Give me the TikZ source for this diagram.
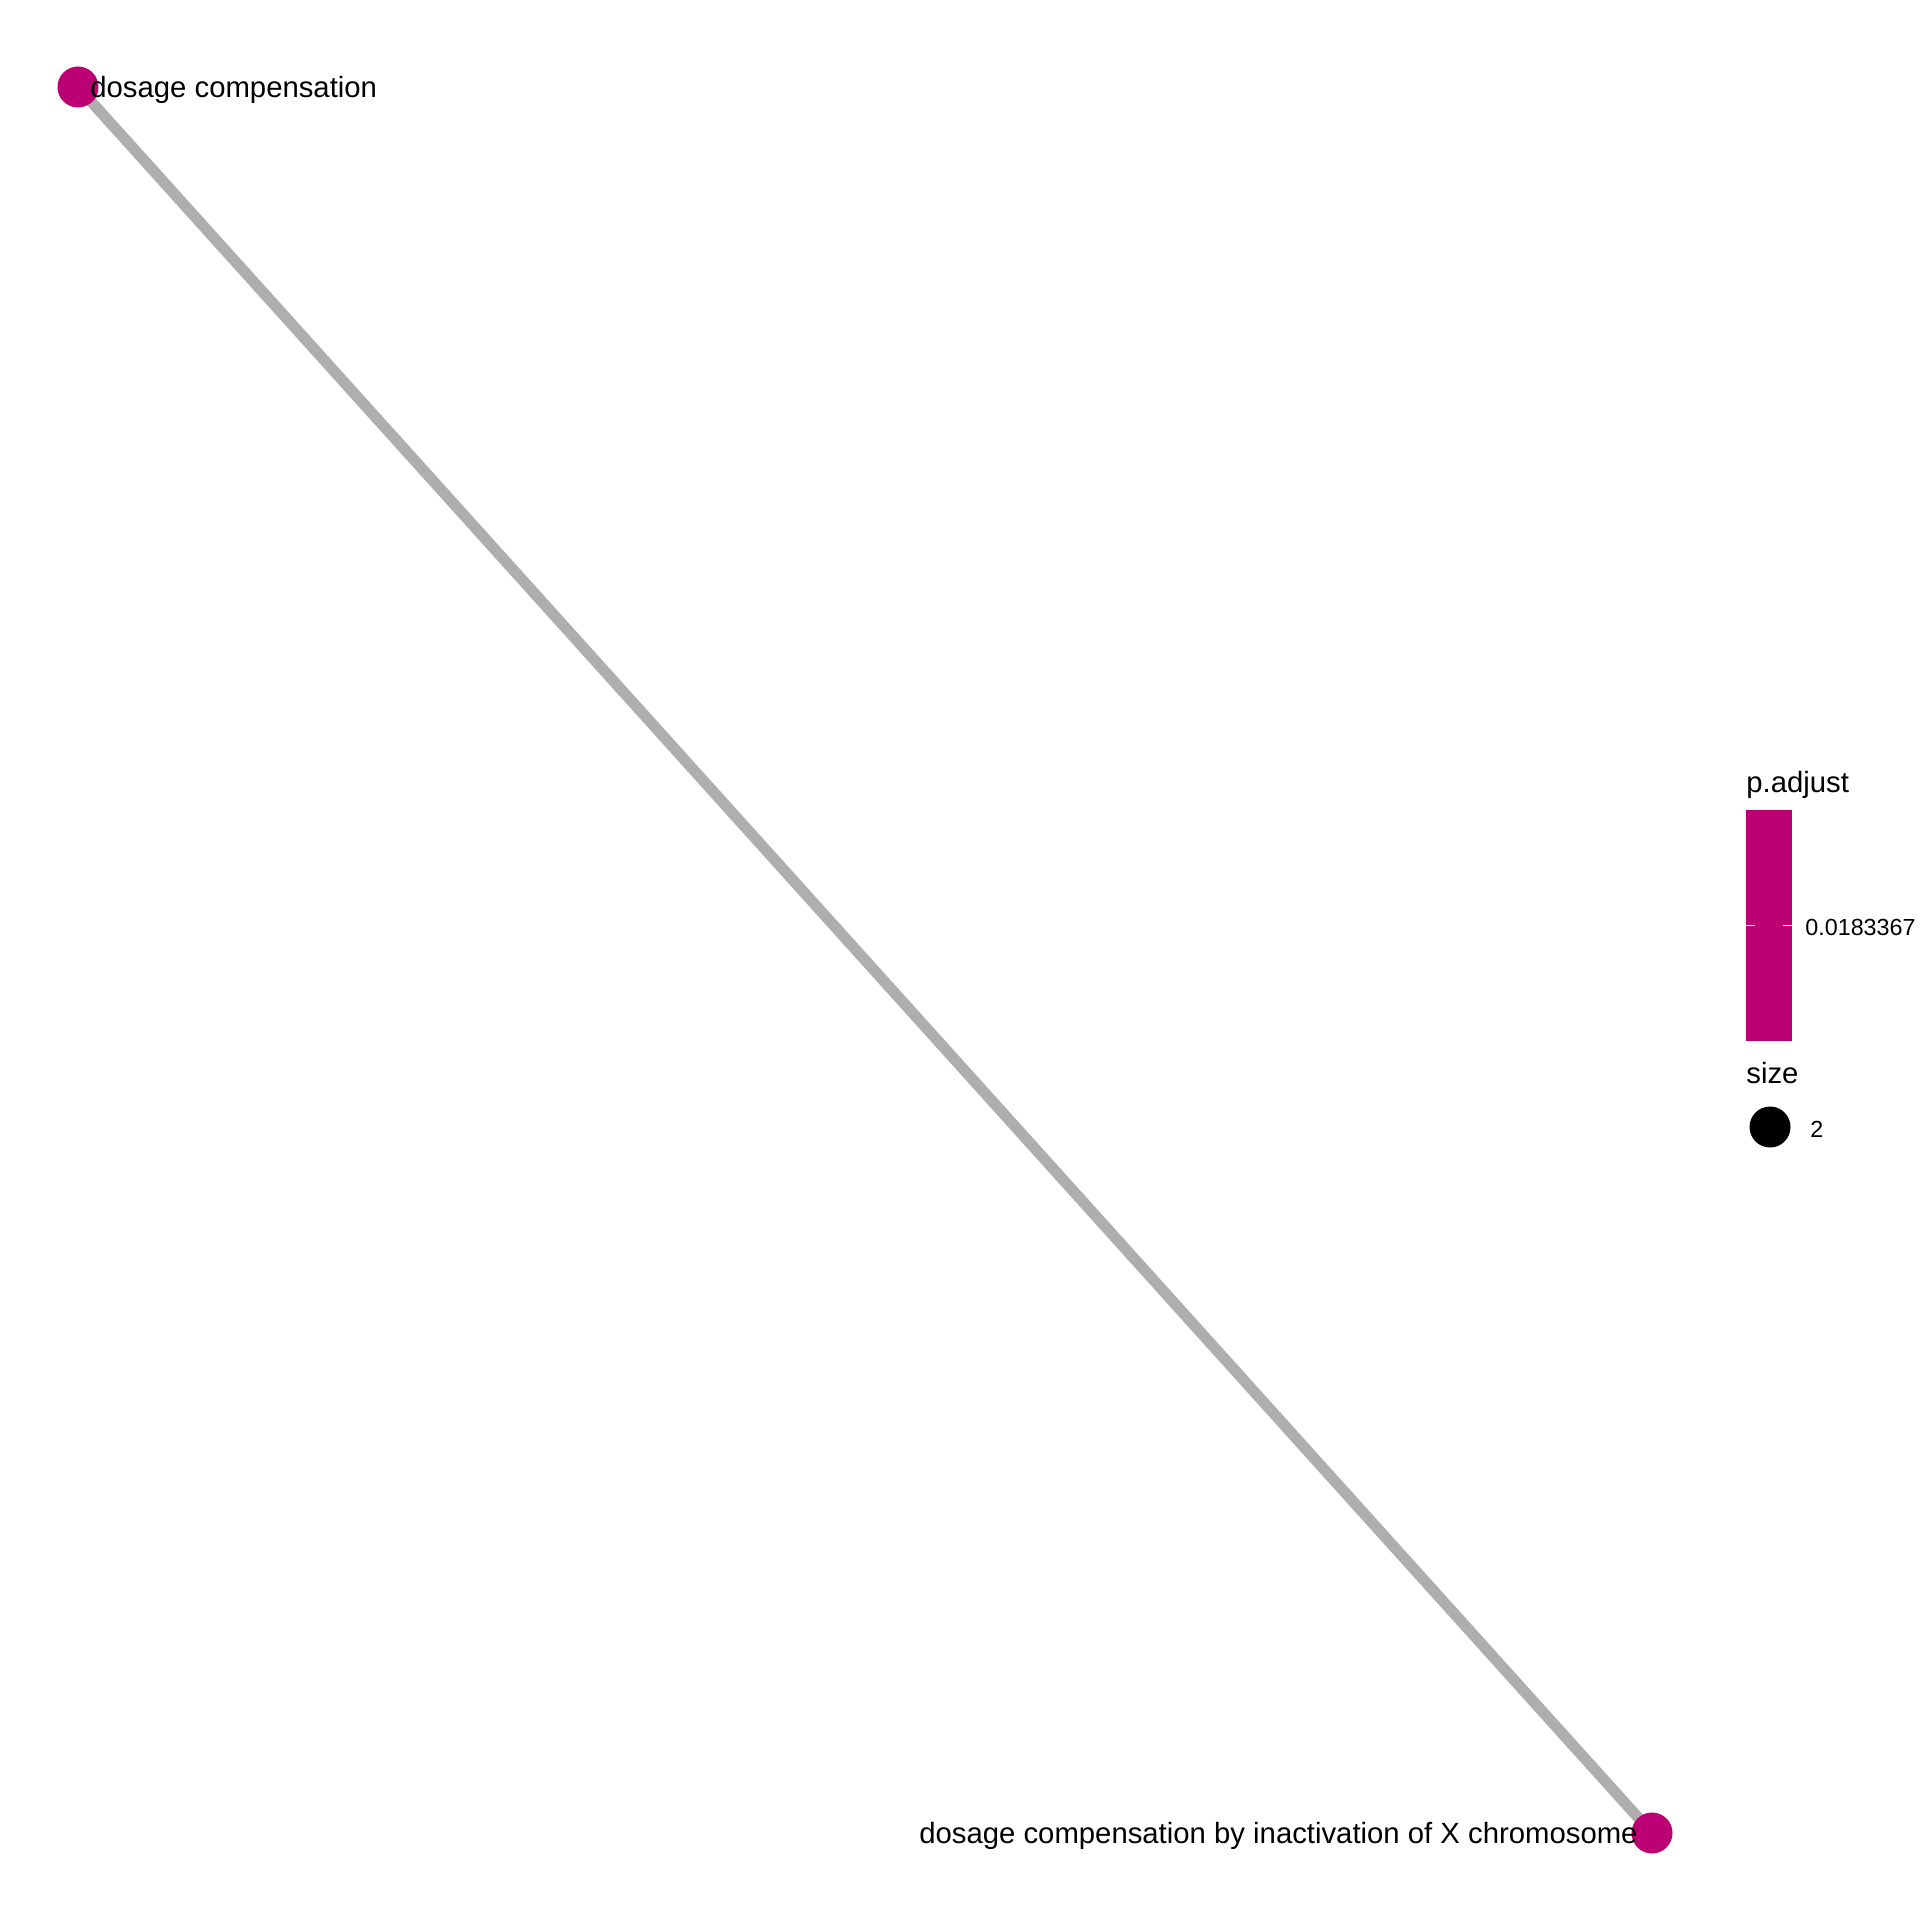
\documentclass[tikz,border=0pt]{standalone}
\usepackage{fontspec}
\setmainfont{Liberation Sans}
\definecolor{nodecol}{RGB}{188,0,116}
\definecolor{edgecol}{RGB}{174,174,174}
\begin{document}
\begin{tikzpicture}[x=0.5pt,y=-0.5pt,
  term/.style={circle,fill=nodecol,minimum size=20.5pt,inner sep=0pt},
  lbl/.style={font=\fontsize{14.65pt}{17pt}\selectfont,inner sep=0pt},
  leglbl/.style={font=\fontsize{11.65pt}{14pt}\selectfont,inner sep=0pt},
  edge/.style={draw=edgecol,line width=5.5pt}]
\useasboundingbox (0,0) rectangle (1920,1920);
\coordinate (c1) at (78,87);
\coordinate (c2) at (1652,1833);
\draw[edge] (c1) -- (c2);
\node[term] (n1) at (c1) {};
\node[term] (n2) at (c2) {};
\node[lbl,anchor=west] (t1) at (90,90) {dosage compensation};
\node[lbl,anchor=east] (t2) at (1638,1836) {dosage compensation by inactivation of X chromosome};
% legend
\node[lbl,anchor=base west] (lt1) at (1746,792) {p.adjust};
\fill[nodecol] (1746,810) rectangle (1792,1041);
\draw[white,line width=0.5pt] (1746,925) -- (1755,925) (1783,925) -- (1792,925);
\node[leglbl,anchor=west] (lv1) at (1805,927) {0.0183367};
\node[lbl,anchor=base west] (lt2) at (1746,1083) {size};
\node[circle,fill=black,minimum size=20.5pt,inner sep=0pt] (ls) at (1770,1127) {};
\node[leglbl,anchor=west] (lv2) at (1810,1129) {2};
\end{tikzpicture}
\end{document}
